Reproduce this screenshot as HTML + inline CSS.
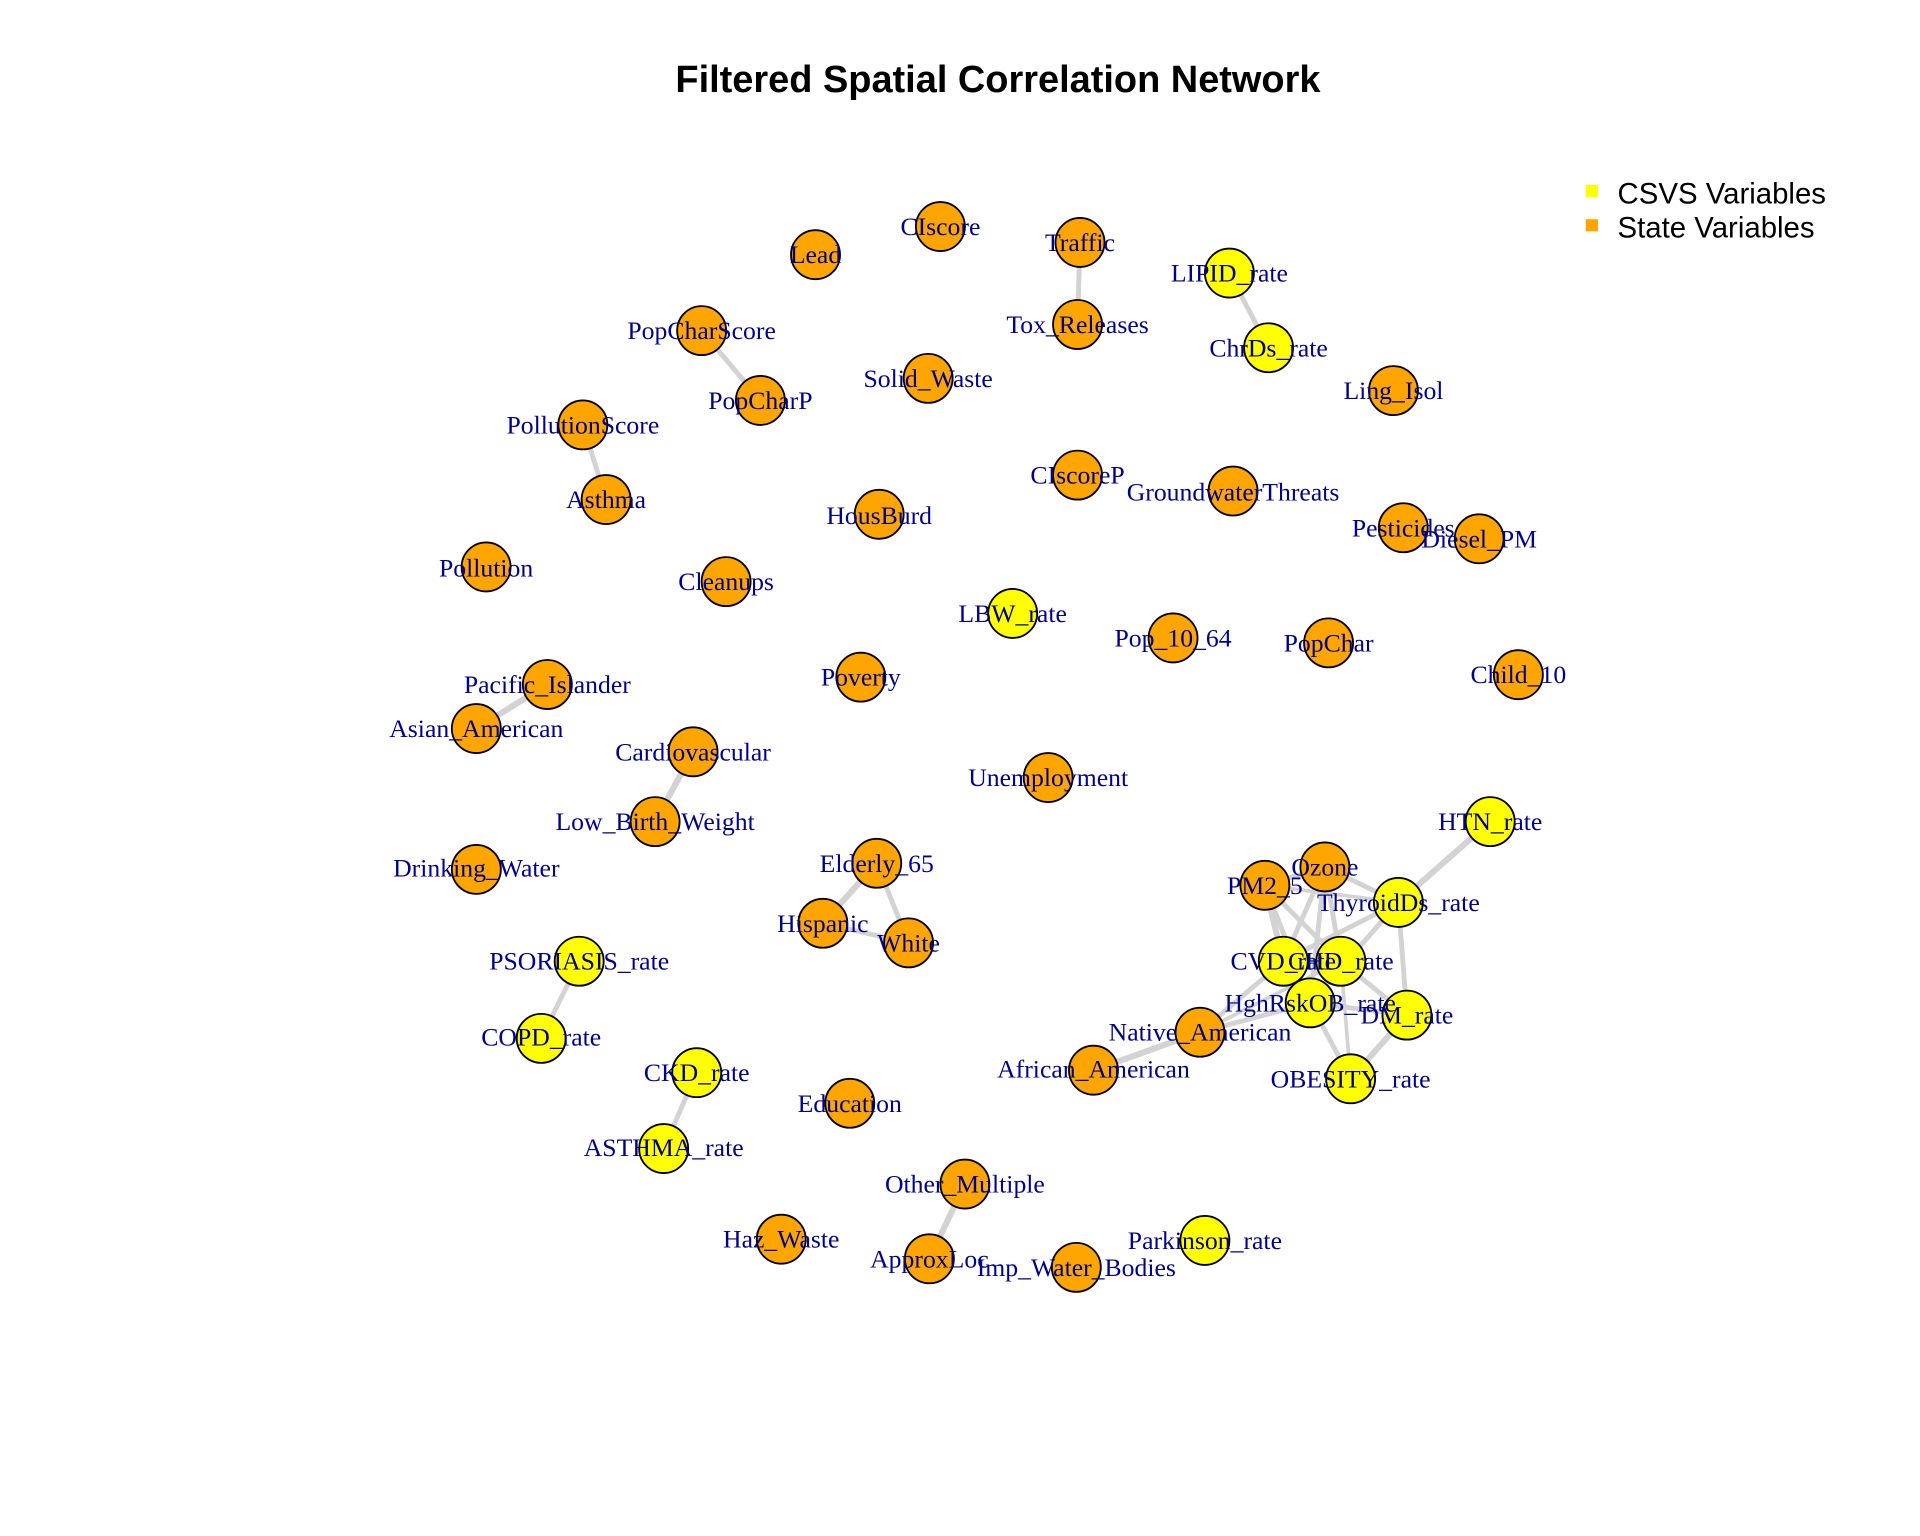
<!DOCTYPE html>
<html><head><meta charset="utf-8"><style>html,body{margin:0;padding:0;background:#fff}svg{display:block}</style></head><body>
<svg width="1920" height="1536" viewBox="0 0 1568 1254.4" preserveAspectRatio="none" xmlns="http://www.w3.org/2000/svg">
<text x="815" y="75" text-anchor="middle" font-family="Liberation Sans, sans-serif" font-weight="bold" font-size="31">Filtered Spatial Correlation Network</text>
<rect x="1295" y="151" width="10" height="10" fill="#ffff00"/>
<rect x="1295" y="179" width="10" height="10" fill="#ffa500"/>
<text x="1321" y="166" font-family="Liberation Sans, sans-serif" font-size="24">CSVS Variables</text>
<text x="1321" y="194" font-family="Liberation Sans, sans-serif" font-size="24">State Variables</text>
<g stroke="#d3d3d3" stroke-width="4" stroke-linecap="round">
<line x1="882" y1="198" x2="880" y2="265"/>
<line x1="1004" y1="223" x2="1036" y2="284"/>
<line x1="573" y1="270" x2="621" y2="327"/>
<line x1="476" y1="347" x2="495" y2="408"/>
<line x1="447" y1="559" x2="389" y2="595" stroke-width="5"/>
<line x1="566" y1="614" x2="535" y2="671" stroke-width="5"/>
<line x1="716" y1="705" x2="672" y2="754" stroke-width="5"/>
<line x1="716" y1="705" x2="742" y2="770"/>
<line x1="672" y1="754" x2="742" y2="770"/>
<line x1="473" y1="785" x2="442" y2="848"/>
<line x1="569" y1="876" x2="542" y2="938"/>
<line x1="788" y1="967" x2="759" y2="1028" stroke-width="5"/>
<line x1="893" y1="874" x2="980" y2="843" stroke-width="5"/>
<line x1="1217" y1="671" x2="1142" y2="737" stroke-width="5"/>
<line x1="1082" y1="708" x2="1142" y2="737"/>
<line x1="1033" y1="723" x2="1082" y2="708"/>
<line x1="1033" y1="723" x2="1142" y2="737" stroke-width="3"/>
<line x1="1033" y1="723" x2="1048" y2="785" stroke-width="5"/>
<line x1="1033" y1="723" x2="1095" y2="785"/>
<line x1="1033" y1="723" x2="1070" y2="819"/>
<line x1="1082" y1="708" x2="1048" y2="785"/>
<line x1="1082" y1="708" x2="1095" y2="785"/>
<line x1="1082" y1="708" x2="1070" y2="819"/>
<line x1="1142" y1="737" x2="1048" y2="785"/>
<line x1="1142" y1="737" x2="1070" y2="819"/>
<line x1="1142" y1="737" x2="1149" y2="829"/>
<line x1="1048" y1="785" x2="1095" y2="785"/>
<line x1="1048" y1="785" x2="1070" y2="819"/>
<line x1="1095" y1="785" x2="1070" y2="819"/>
<line x1="1095" y1="785" x2="1149" y2="829"/>
<line x1="1070" y1="819" x2="1149" y2="829"/>
<line x1="1070" y1="819" x2="1103" y2="881"/>
<line x1="1149" y1="829" x2="1103" y2="881" stroke-width="5"/>
<line x1="1095" y1="785" x2="1103" y2="881" stroke-width="3"/>
<line x1="980" y1="843" x2="1048" y2="785"/>
<line x1="980" y1="843" x2="1070" y2="819"/>
<line x1="980" y1="843" x2="1095" y2="785" stroke-width="3"/>
</g>
<g stroke="#000" stroke-width="1.5">
<g fill="#ffa500">
<circle cx="666" cy="208" r="20"/><circle cx="768" cy="185" r="20"/><circle cx="882" cy="198" r="20"/><circle cx="880" cy="265" r="20"/>
<circle cx="1138" cy="319" r="20"/><circle cx="573" cy="270" r="20"/><circle cx="621" cy="327" r="20"/><circle cx="758" cy="309" r="20"/>
<circle cx="476" cy="347" r="20"/><circle cx="495" cy="408" r="20"/><circle cx="880" cy="388" r="20"/><circle cx="1007" cy="401" r="20"/>
<circle cx="718" cy="420" r="20"/><circle cx="1146" cy="431" r="20"/><circle cx="1208" cy="440" r="20"/><circle cx="397" cy="463" r="20"/>
<circle cx="593" cy="475" r="20"/><circle cx="958" cy="521" r="20"/><circle cx="1085" cy="525" r="20"/><circle cx="1240" cy="551" r="20"/>
<circle cx="447" cy="559" r="20"/><circle cx="389" cy="595" r="20"/><circle cx="703" cy="553" r="20"/><circle cx="566" cy="614" r="20"/>
<circle cx="856" cy="635" r="20"/><circle cx="535" cy="671" r="20"/><circle cx="716" cy="705" r="20"/><circle cx="389" cy="710" r="20"/>
<circle cx="1082" cy="708" r="20"/><circle cx="1033" cy="723" r="20"/><circle cx="672" cy="754" r="20"/><circle cx="742" cy="770" r="20"/>
<circle cx="980" cy="843" r="20"/><circle cx="893" cy="874" r="20"/><circle cx="694" cy="901" r="20"/><circle cx="788" cy="967" r="20"/>
<circle cx="638" cy="1012" r="20"/><circle cx="759" cy="1028" r="20"/><circle cx="879" cy="1035" r="20"/>
</g>
<g fill="#ffff00">
<circle cx="1004" cy="223" r="20"/><circle cx="1036" cy="284" r="20"/><circle cx="827" cy="501" r="20"/><circle cx="1217" cy="671" r="20"/>
<circle cx="1142" cy="737" r="20"/><circle cx="473" cy="785" r="20"/><circle cx="1048" cy="785" r="20"/><circle cx="1095" cy="785" r="20"/>
<circle cx="1070" cy="819" r="20"/><circle cx="1149" cy="829" r="20"/><circle cx="442" cy="848" r="20"/><circle cx="1103" cy="881" r="20"/>
<circle cx="569" cy="876" r="20"/><circle cx="542" cy="938" r="20"/><circle cx="984" cy="1013" r="20"/>
</g>
</g>
<g font-family="Liberation Serif, serif" font-size="21" fill="#00008b" text-anchor="middle" dominant-baseline="central">
<text x="666" y="208">Lead</text><text x="768" y="185">CIscore</text><text x="882" y="198">Traffic</text><text x="880" y="265">Tox_Releases</text>
<text x="1004" y="223">LIPID_rate</text><text x="1036" y="284">ChrDs_rate</text><text x="1138" y="319">Ling_Isol</text>
<text x="573" y="270">PopCharScore</text><text x="621" y="327">PopCharP</text><text x="758" y="309">Solid_Waste</text>
<text x="476" y="347">PollutionScore</text><text x="495" y="408">Asthma</text><text x="880" y="388">CIscoreP</text>
<text x="1007" y="402">GroundwaterThreats</text><text x="718" y="421">HousBurd</text><text x="1146" y="431">Pesticides</text>
<text x="1208" y="440">Diesel_PM</text><text x="397" y="464">Pollution</text><text x="593" y="475">Cleanups</text>
<text x="827" y="501">LBW_rate</text><text x="958" y="521">Pop_10_64</text><text x="1085" y="525">PopChar</text><text x="1240" y="551">Child_10</text>
<text x="447" y="559">Pacific_Islander</text><text x="389" y="595">Asian_American</text><text x="703" y="553">Poverty</text>
<text x="566" y="614">Cardiovascular</text><text x="856" y="635">Unemployment</text><text x="535" y="671">Low_Birth_Weight</text>
<text x="1217" y="671">HTN_rate</text><text x="716" y="705">Elderly_65</text><text x="389" y="709">Drinking_Water</text>
<text x="1082" y="708">Ozone</text><text x="1033" y="723">PM2_5</text><text x="1142" y="737">ThyroidDs_rate</text>
<text x="672" y="754">Hispanic</text><text x="742" y="770">White</text><text x="473" y="785">PSORIASIS_rate</text>
<text x="1048" y="785">CVD_rate</text><text x="1095" y="785">CHD_rate</text><text x="1070" y="819">HghRskOB_rate</text>
<text x="1149" y="829">DM_rate</text><text x="442" y="847">COPD_rate</text><text x="980" y="843">Native_American</text>
<text x="893" y="873">African_American</text><text x="1103" y="881">OBESITY_rate</text><text x="569" y="876">CKD_rate</text>
<text x="694" y="901">Education</text><text x="542" y="937">ASTHMA_rate</text><text x="788" y="967">Other_Multiple</text>
<text x="638" y="1012">Haz_Waste</text><text x="984" y="1013">Parkinson_rate</text><text x="759" y="1028">ApproxLoc</text>
<text x="879" y="1035">Imp_Water_Bodies</text>
</g>
</svg>
</body></html>
